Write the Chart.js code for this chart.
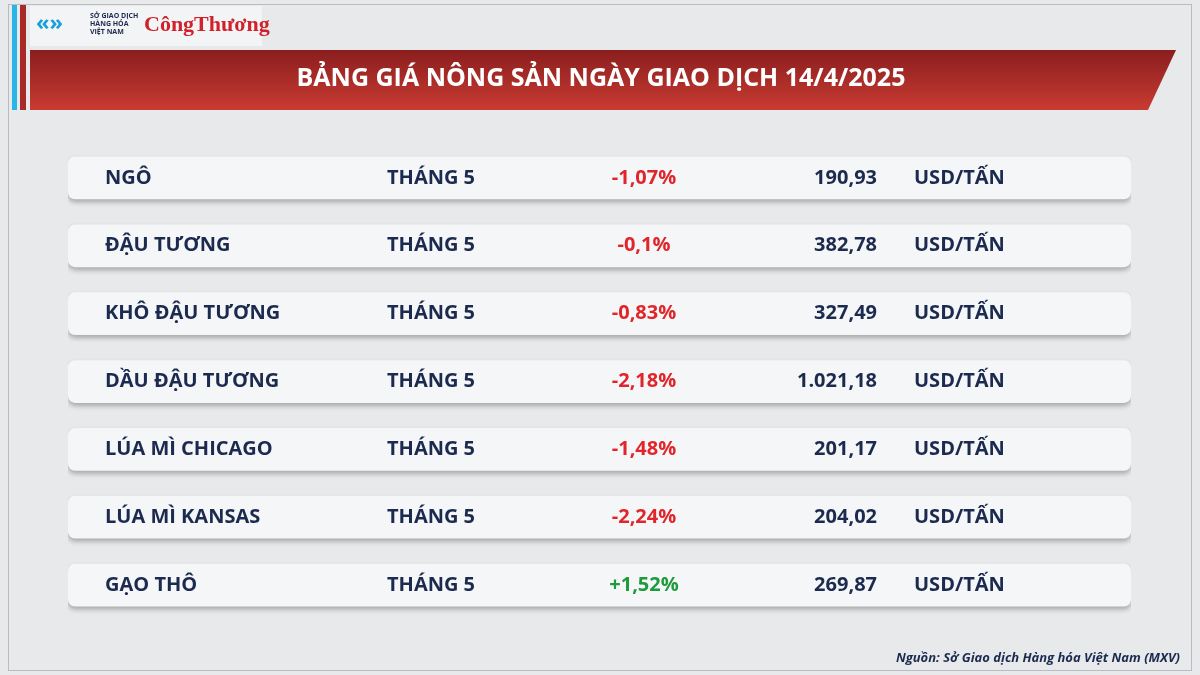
<!DOCTYPE html>
<html><head><meta charset="utf-8">
<script src="https://cdn.jsdelivr.net/npm/chart.js@4.4.1/dist/chart.umd.min.js"></script>
<style>html,body{margin:0;padding:0;background:#e8e9eb}canvas{display:block}</style>
</head><body>
<div style="width:1200px;height:675px"><canvas id="c" width="1200" height="675"></canvas></div>
<script>
const commodities = ['NGÔ', 'ĐẬU TƯƠNG', 'KHÔ ĐẬU TƯƠNG', 'DẦU ĐẬU TƯƠNG', 'LÚA MÌ CHICAGO', 'LÚA MÌ KANSAS', 'GẠO THÔ'];
const months = ['THÁNG 5', 'THÁNG 5', 'THÁNG 5', 'THÁNG 5', 'THÁNG 5', 'THÁNG 5', 'THÁNG 5'];
const changes = [-1.07, -0.1, -0.83, -2.18, -1.48, -2.24, 1.52];
const prices = [190.93, 382.78, 327.49, 1021.18, 201.17, 204.02, 269.87];
const unit = 'USD/TẤN';
const title = 'BẢNG GIÁ NÔNG SẢN NGÀY GIAO DỊCH 14/4/2025';
const source = 'Nguồn: Sở Giao dịch Hàng hóa Việt Nam (MXV)';

const fmtNum = v => v.toLocaleString('de-DE', {minimumFractionDigits: 2, maximumFractionDigits: 2});
const fmtPct = v => (v > 0 ? '+' : '') + String(v).replace('.', ',') + '%';
const F = '"Open Sans", "Noto Sans", sans-serif';

const decor = {
  id: 'decor',
  beforeDraw(chart) {
    const ctx = chart.ctx;
    ctx.save();
    ctx.fillStyle = '#e8e9eb';
    ctx.fillRect(0, 0, 1200, 675);
    ctx.strokeStyle = '#b9bcc2';
    ctx.lineWidth = 1;
    ctx.strokeRect(8.5, 4.5, 1183, 666);
    // left stripes
    ctx.fillStyle = '#29b6e6'; ctx.fillRect(12, 5, 5, 105);
    ctx.fillStyle = '#a82a26'; ctx.fillRect(20, 5, 6, 105);
    // logo box
    ctx.fillStyle = '#f3f4f5'; ctx.fillRect(30, 6, 232, 40);
    ctx.fillStyle = '#1aa0d8';
    ctx.font = 'bold 22px ' + F; ctx.textBaseline = 'middle';
    ctx.fillText('«»', 36, 24);
    ctx.fillStyle = '#1b2a4e'; ctx.font = 'bold 7px ' + F;
    ctx.fillText('SỞ GIAO DỊCH', 90, 16); ctx.fillText('HÀNG HÓA', 90, 24); ctx.fillText('VIỆT NAM', 90, 32);
    ctx.fillStyle = '#d0222a'; ctx.font = 'bold 22px "Liberation Serif", serif';
    ctx.fillText('CôngThương', 144, 25);
    // header band
    const g = ctx.createLinearGradient(0, 50, 0, 110);
    g.addColorStop(0, '#8a1e1e'); g.addColorStop(1, '#c93b32');
    ctx.fillStyle = g;
    ctx.beginPath(); ctx.moveTo(30, 50); ctx.lineTo(1176, 50); ctx.lineTo(1148, 110); ctx.lineTo(30, 110); ctx.closePath(); ctx.fill();
    ctx.fillStyle = '#ffffff'; ctx.font = 'bold 25px ' + F; ctx.textAlign = 'center';
    ctx.fillText(title, 601, 79);
    ctx.restore();
  },
  beforeDatasetsDraw(chart) {
    const ctx = chart.ctx;
    ctx.save();
    ctx.shadowColor = 'rgba(0,0,0,0.28)'; ctx.shadowBlur = 5; ctx.shadowOffsetY = 3;
  },
  afterDatasetsDraw(chart) {
    const ctx = chart.ctx;
    ctx.restore();
    ctx.save();
    const y = chart.scales.y;
    ctx.textBaseline = 'middle';
    ctx.font = 'bold 20px ' + F;
    commodities.forEach((name, i) => {
      const py = y.getPixelForValue(i);
      ctx.fillStyle = '#1b2a4e';
      ctx.textAlign = 'left'; ctx.fillText(name, 105, py);
      ctx.fillText(months[i], 387, py);
      ctx.textAlign = 'right'; ctx.fillText(fmtNum(prices[i]), 877, py);
      ctx.textAlign = 'left'; ctx.fillText(unit, 914, py);
      ctx.fillStyle = changes[i] >= 0 ? '#1f9a3c' : '#e0262b';
      ctx.textAlign = 'center'; ctx.fillText(fmtPct(changes[i]), 644, py);
    });
    ctx.fillStyle = '#1b2a4e'; ctx.font = 'italic bold 13px ' + F;
    ctx.textAlign = 'right'; ctx.fillText(source, 1180, 658);
    ctx.restore();
  }
};

new Chart(document.getElementById('c'), {
  type: 'bar',
  data: {
    labels: commodities,
    datasets: [{
      data: commodities.map(() => [0, 1]),
      backgroundColor: '#f5f6f8',
      borderRadius: 7,
      borderSkipped: false,
      barPercentage: 0.63,
      categoryPercentage: 1
    }]
  },
  options: {
    indexAxis: 'y',
    responsive: false,
    animation: false,
    layout: {padding: {left: 68, right: 69, top: 144, bottom: 56}},
    scales: {
      x: {display: false, min: 0, max: 1},
      y: {display: false}
    },
    plugins: {legend: {display: false}, tooltip: {enabled: false}}
  },
  plugins: [decor]
});
</script>
</body></html>
